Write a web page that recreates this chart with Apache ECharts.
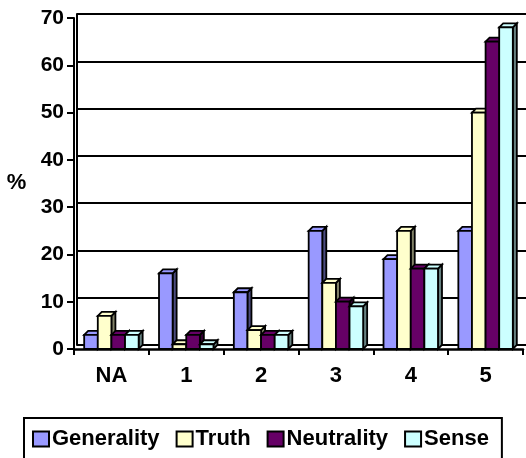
<!DOCTYPE html>
<html>
<head>
<meta charset="utf-8">
<script src="https://cdn.jsdelivr.net/npm/echarts@6/dist/echarts.min.js"></script>
<style>
  html, body { margin: 0; padding: 0; background: #fff; }
  #chart { width: 526px; height: 458px; }
</style>
</head>
<body>
<div id="chart"></div>
<script>
// Survey scores per rating, in percent
const categories = ['NA', '1', '2', '3', '4', '5'];
const generality = [3, 16, 12, 25, 19, 25];
const truth      = [7, 1, 4, 14, 25, 50];
const neutrality = [3, 3, 3, 10, 17, 65];
const sense      = [3, 1, 3, 9, 17, 68];
const yTicks = [0, 10, 20, 30, 40, 50, 60, 70];

const seriesDefs = [
  { name: 'Generality', values: generality, color: '#9999FF', side: '#4C4C80' },
  { name: 'Truth',      values: truth,      color: '#FFFFCC', side: '#808066' },
  { name: 'Neutrality', values: neutrality, color: '#660066', side: '#330033' },
  { name: 'Sense',      values: sense,      color: '#CCFFFF', side: '#668080' }
];

const FONT = '"Liberation Sans", Arial, sans-serif';
const DEPTH = 4;
const BAR_RATIO = 0.182;

// Draws one bar as a front face plus a top and a right-hand side face
function make3DBar(idx, def) {
  return function (params, api) {
    const cat = api.value(0);
    const val = api.value(1);
    const catW = api.size([1, 0])[0];
    const bw = catW * BAR_RATIO;
    const base = api.coord([cat, 0]);
    const top = api.coord([cat, val]);
    const x0 = base[0] - 2 * bw + idx * bw;
    const ty = top[1];
    const by = base[1];
    const d = DEPTH;
    const line = { stroke: '#000', lineWidth: 1.8, lineJoin: 'miter' };
    return {
      type: 'group',
      children: [
        {
          type: 'polygon',
          shape: { points: [[x0 + bw, ty], [x0 + bw + d, ty - d], [x0 + bw + d, by - d], [x0 + bw, by]] },
          style: Object.assign({ fill: def.side }, line)
        },
        {
          type: 'polygon',
          shape: { points: [[x0, ty], [x0 + d, ty - d], [x0 + bw + d, ty - d], [x0 + bw, ty]] },
          style: Object.assign({ fill: def.color }, line)
        },
        {
          type: 'rect',
          shape: { x: x0, y: ty, width: bw, height: by - ty },
          style: Object.assign({ fill: def.color }, line)
        }
      ]
    };
  };
}

const chart = echarts.init(document.getElementById('chart'), null, { renderer: 'canvas' });

const series = seriesDefs.map(function (def, i) {
  return {
    name: def.name,
    type: 'custom',
    xAxisIndex: 0,
    yAxisIndex: 0,
    renderItem: make3DBar(i, def),
    itemStyle: { color: def.color, borderColor: '#000', borderWidth: 2 },
    encode: { x: 0, y: 1 },
    data: def.values.map(function (v, c) { return [c, v]; }),
    z: 3
  };
});

chart.setOption({
  animation: false,
  backgroundColor: '#fff',
  grid: [
    // front plane: bars, axis labels and ticks
    { left: 74, right: 3, top: 18, bottom: 109 },
    // back wall: gridlines
    { left: 77, right: 0, top: 14, bottom: 113 }
  ],
  xAxis: [
    {
      type: 'category',
      gridIndex: 0,
      data: categories,
      boundaryGap: true,
      axisLine: { lineStyle: { color: '#000', width: 2.5 } },
      axisTick: { show: true, length: 6, lineStyle: { color: '#000', width: 2 } },
      axisLabel: { color: '#000', fontFamily: FONT, fontWeight: 'bold', fontSize: 22, margin: 16 },
      splitLine: { show: false }
    },
    {
      type: 'category',
      gridIndex: 1,
      data: categories,
      show: false
    }
  ],
  yAxis: [
    {
      type: 'value',
      gridIndex: 0,
      min: yTicks[0],
      max: yTicks[yTicks.length - 1],
      interval: 10,
      axisLine: { show: true, lineStyle: { color: '#000', width: 2 } },
      axisTick: { show: true, length: 7, lineStyle: { color: '#000', width: 2 } },
      axisLabel: { color: '#000', fontFamily: FONT, fontWeight: 'bold', fontSize: 21, margin: 10 },
      splitLine: { show: false }
    },
    {
      type: 'value',
      gridIndex: 1,
      min: yTicks[0],
      max: yTicks[yTicks.length - 1],
      interval: 10,
      axisLine: { show: true, lineStyle: { color: '#000', width: 2 } },
      axisTick: { show: false },
      axisLabel: { show: false },
      splitLine: { show: true, lineStyle: { color: '#000', width: 2 } }
    }
  ],
  legend: {
    left: 24,
    top: 418,
    orient: 'horizontal',
    icon: 'rect',
    itemWidth: 16,
    itemHeight: 15,
    itemGap: 16,
    padding: [10, 13, 30, 8],
    borderColor: '#000',
    borderWidth: 2,
    backgroundColor: '#fff',
    itemStyle: { borderColor: '#000', borderWidth: 2 },
    textStyle: { color: '#000', fontFamily: FONT, fontWeight: 'bold', fontSize: 22, padding: [0, 0, 0, -2] },
    data: seriesDefs.map(function (d) { return d.name; })
  },
  graphic: [
    {
      type: 'text',
      x: 16.5,
      y: 183,
      style: { text: '%', fill: '#000', font: 'bold 22px ' + FONT, textAlign: 'center', textVerticalAlign: 'middle' }
    }
  ],
  series: series
});
</script>
</body>
</html>
